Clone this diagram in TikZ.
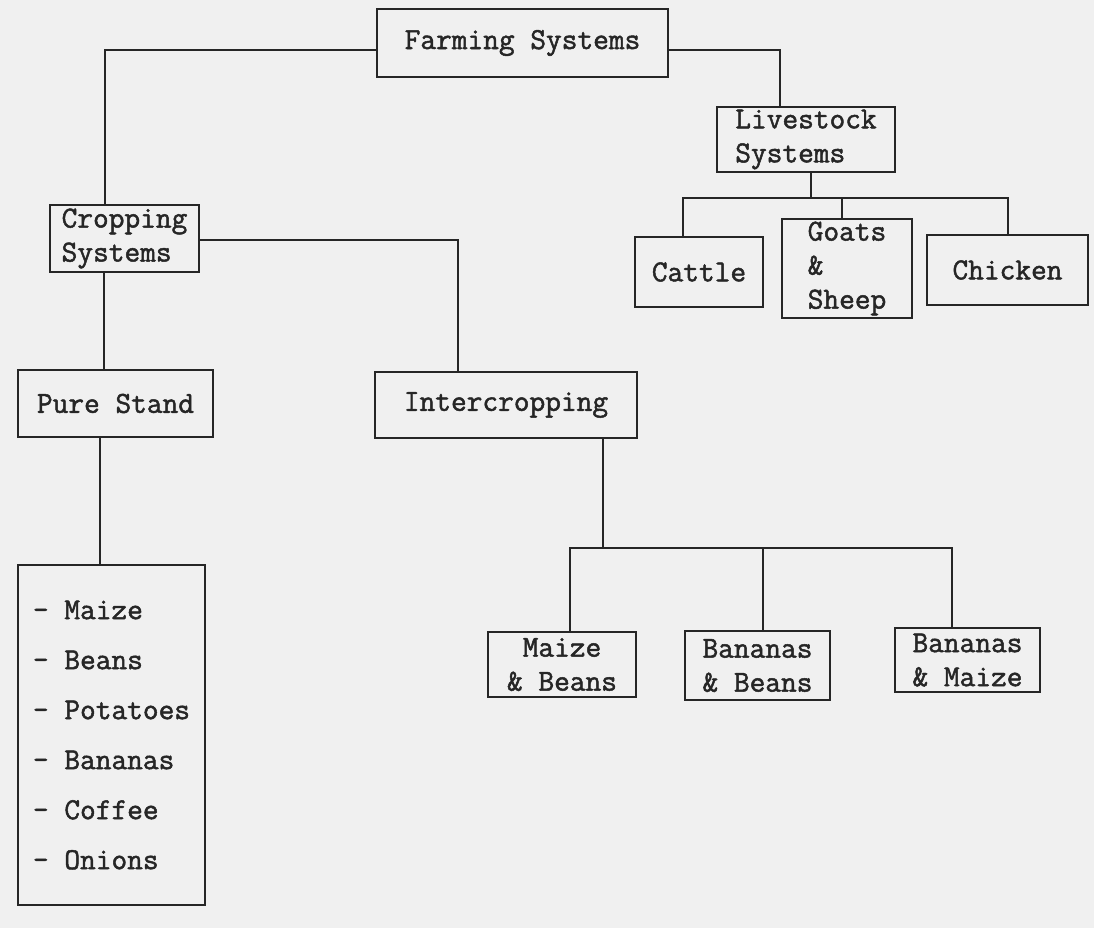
\documentclass[tikz,border=0pt]{standalone}
\usepackage{fontspec}
\usepackage{tikz}
\newfontfamily\typewr{Latin Modern Mono}[FakeBold=1.6]
\tikzset{every picture/.style={line width=2.6pt},
  box/.style={draw=black!85,line width=2.6pt,inner sep=0pt,align=left,text=black!85,
    font=\fontsize{30.5}{34}\selectfont\typewr},
  link/.style={draw=black!85,line width=2.8pt}}

\begin{document}
\begin{tikzpicture}[x=1pt,y=-1pt]
\fill[black!6] (0,0) rectangle (1094,928);
\useasboundingbox (0,0) rectangle (1094,928);
\node[box,minimum width=291pt,minimum height=68pt] (farm) at (522.5,43) {Farming Systems};
\node[box,minimum width=149pt,minimum height=67pt] (crop) at (124.5,238.5) {Cropping\\Systems};
\node[box,minimum width=178pt,minimum height=65pt] (live) at (806,139.5) {Livestock\\Systems};
\node[box,minimum width=128pt,minimum height=70pt] (cattle) at (699,272) {Cattle};
\node[box,minimum width=130pt,minimum height=99pt] (goats) at (847,268.5) {Goats\\\&\\Sheep};
\node[box,minimum width=161pt,minimum height=70pt] (chick) at (1007.5,270) {Chicken};
\node[box,minimum width=195pt,minimum height=67pt] (pure) at (115.5,403.5) {Pure Stand};
\node[box,minimum width=262pt,minimum height=66pt] (inter) at (506,405) {Intercropping};
\node[box,minimum width=148pt,minimum height=65pt] (mb) at (562,664.5) {\ Maize\\\& Beans};
\node[box,minimum width=145pt,minimum height=69pt] (bb) at (757.5,665.5) {Bananas\\\& Beans};
\node[box,minimum width=145pt,minimum height=64pt] (bm) at (967.5,660) {Bananas\\\& Maize};
\node[box,minimum width=187pt,minimum height=340pt,font=\fontsize{30.5}{50}\selectfont\typewr]
  (list) at (111.5,735) {- Maize\\- Beans\\- Potatoes\\- Bananas\\- Coffee\\- Onions};
% junctions
\coordinate (jfc) at (105,50);
\coordinate (jfl) at (780,50);
\coordinate (jcp) at (104,300);
\coordinate (jci) at (458,240);
\coordinate (jpl) at (100,500);
\coordinate (jl) at (811,198);
\coordinate (jla) at (683,198);
\coordinate (jlg) at (842,198);
\coordinate (jlb) at (1008,198);
\coordinate (jib) at (603,548);
\coordinate (jim) at (570,548);
\coordinate (jbb) at (763,548);
\coordinate (jie) at (952,548);
\draw[link] (farm.west |- jfc) -- (jfc) -- (jfc |- crop.north);
\draw[link] (farm.east |- jfl) -- (jfl) -- (jfl |- live.north);
\draw[link] (jl |- live.south) -- (jl);
\draw[link] (jla |- cattle.north) -- (jla) -- (jlb) -- (jlb |- chick.north);
\draw[link] (jlg) -- (jlg |- goats.north);
\draw[link] (jcp |- crop.south) -- (jcp |- pure.north);
\draw[link] (crop.east |- jci) -- (jci) -- (jci |- inter.north);
\draw[link] (jpl |- pure.south) -- (jpl |- list.north);
\draw[link] (jib |- inter.south) -- (jib);
\draw[link] (jim |- mb.north) -- (jim) -- (jie) -- (jie |- bm.north);
\draw[link] (jbb) -- (jbb |- bb.north);
\end{tikzpicture}
\end{document}
